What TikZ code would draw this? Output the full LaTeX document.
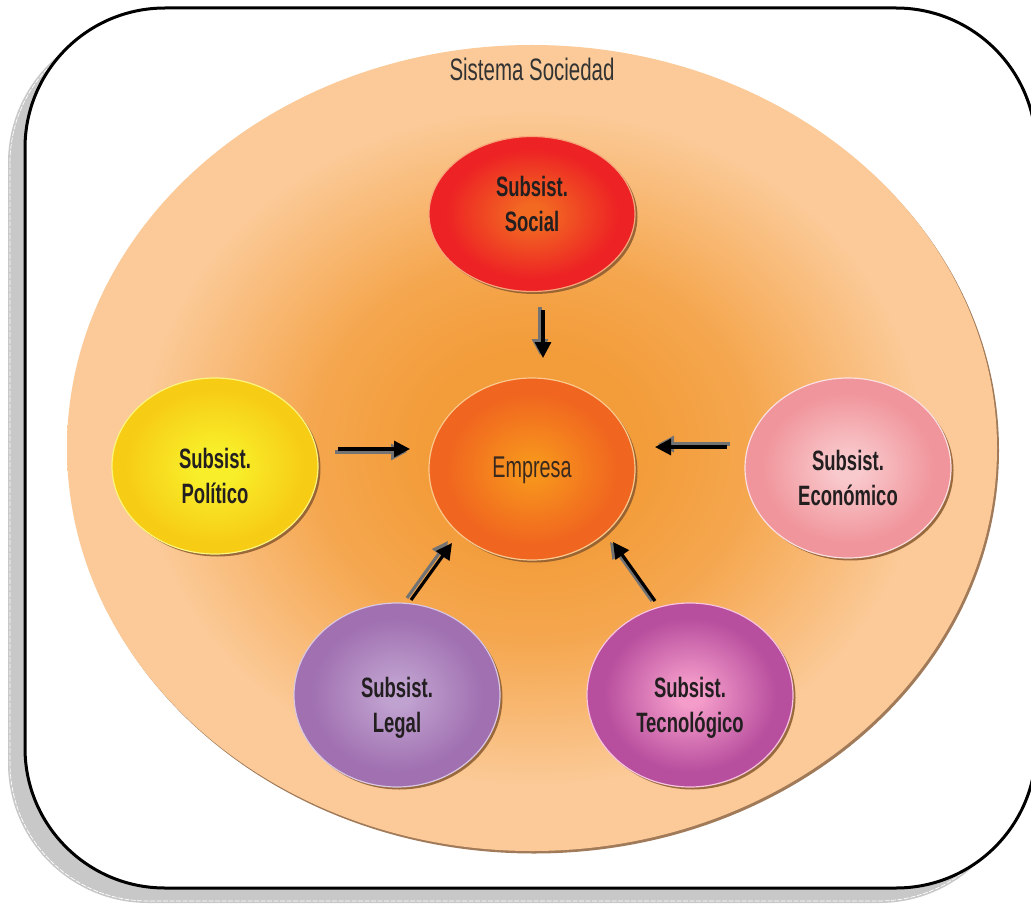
\documentclass[tikz,border=0pt]{standalone}
\usepackage{fontspec}
\newfontfamily\agency[FakeStretch=0.66]{Liberation Sans}
\usetikzlibrary{arrows.meta,shadows,shapes.geometric}
\definecolor{framesh}{HTML}{C8C8C8}
\definecolor{txt}{HTML}{231F20}
\definecolor{emptxt}{HTML}{3A2A1E}
\definecolor{soctxt}{HTML}{333333}
\definecolor{bigin}{HTML}{F39C3A}
\definecolor{bigmid}{HTML}{F5A74F}
\definecolor{bigout}{HTML}{FBCA98}
\definecolor{socin}{HTML}{F26A22}
\definecolor{socout}{HTML}{ED2224}
\definecolor{empin}{HTML}{F7941D}
\definecolor{empout}{HTML}{F0651F}
\definecolor{polin}{HTML}{F8EE2A}
\definecolor{polout}{HTML}{F7CC14}
\definecolor{ecoin}{HTML}{F9CACD}
\definecolor{ecoout}{HTML}{F0959B}
\definecolor{legin}{HTML}{C0A2D0}
\definecolor{legout}{HTML}{A070B0}
\definecolor{tecin}{HTML}{F49CCA}
\definecolor{tecout}{HTML}{B84E9E}
\definecolor{rimsh}{HTML}{8A5A30}
\pgfdeclareradialshading{shbig}{\pgfpoint{0bp}{0bp}}{color(0bp)=(bigin); color(6bp)=(bigin); color(12bp)=(bigmid); color(21bp)=(bigout); color(50bp)=(bigout)}
\pgfdeclareradialshading{shsoc}{\pgfpoint{0bp}{0bp}}{color(0bp)=(socin); color(3bp)=(socin); color(21bp)=(socout); color(50bp)=(socout)}
\pgfdeclareradialshading{shemp}{\pgfpoint{0bp}{0bp}}{color(0bp)=(empin); color(3bp)=(empin); color(21bp)=(empout); color(50bp)=(empout)}
\pgfdeclareradialshading{shpol}{\pgfpoint{0bp}{0bp}}{color(0bp)=(polin); color(5bp)=(polin); color(22bp)=(polout); color(50bp)=(polout)}
\pgfdeclareradialshading{sheco}{\pgfpoint{0bp}{0bp}}{color(0bp)=(ecoin); color(3bp)=(ecoin); color(21bp)=(ecoout); color(50bp)=(ecoout)}
\pgfdeclareradialshading{shleg}{\pgfpoint{0bp}{0bp}}{color(0bp)=(legin); color(3bp)=(legin); color(21bp)=(legout); color(50bp)=(legout)}
\pgfdeclareradialshading{shtec}{\pgfpoint{0bp}{0bp}}{color(0bp)=(tecin); color(3bp)=(tecin); color(21bp)=(tecout); color(50bp)=(tecout)}
\begin{document}
\begin{tikzpicture}[x=1pt,y=-1pt,
  subsys/.style={ellipse, inner sep=0pt, minimum width=206pt, minimum height=180pt,
    shade, line width=1.2pt, align=center, text=txt,
    font=\agency\bfseries\fontsize{28}{35}\selectfont,
    text height=74pt, text depth=0pt,
    drop shadow={shadow xshift=2.5pt, shadow yshift=-2.5pt, fill=rimsh, opacity=0.85}},
  arrblack/.style={line width=3.2pt, black, -{Triangle[length=16pt,width=16pt]}},
  arrgray/.style={line width=3.2pt, black!55, -{Triangle[length=16pt,width=16pt]}}]
\useasboundingbox (0,0) rectangle (1031,904);
\clip (0,0) rectangle (1031,904);
% frame with shadow
\fill[framesh, rounded corners=140pt] (8,23) rectangle (1019,903);
\draw[white, line width=0.7pt, dash pattern=on 5pt off 1.5pt, rounded corners=138pt] (10,25) rectangle (1017,901);
\draw[line width=3pt, fill=white, rounded corners=140pt] (25,8) rectangle (1036,888);
% society ellipse
\node[ellipse, inner sep=0pt, minimum width=930pt, minimum height=806pt, shade, shading=shbig,
  drop shadow={shadow xshift=2pt, shadow yshift=-2.5pt, fill=rimsh, opacity=0.8}] (soc) at (532,448) {};
\node[anchor=base, inner sep=0pt, text=soctxt, font=\agency\fontsize{31}{36}\selectfont] (soclabel) at (532,81) {Sistema Sociedad};
% subsystems
\node[subsys, shading=shsoc, draw=socin!60!white, minimum height=155pt, text height=36pt] (social) at (532,214) {Subsist.\\Social};
\node[subsys, shading=shemp, draw=empin!50!white, minimum height=182pt, text=emptxt,
  font=\agency\fontsize{30}{35}\selectfont, text height=22pt, text depth=6pt] (empresa) at (532,469) {Empresa};
\node[subsys, shading=shpol, draw=polin!60!white, minimum height=176pt] (politico) at (215,466) {Subsist.\\Político};
\node[subsys, shading=sheco, draw=ecoin!60!white] (economico) at (848,468) {Subsist.\\Económico};
\node[subsys, shading=shleg, draw=legin!60!white, minimum height=184pt] (legal) at (397,695) {Subsist.\\Legal};
\node[subsys, shading=shtec, draw=tecin!60!white, minimum height=184pt] (tecno) at (690,695) {Subsist.\\Tecnológico};
% arrow ends
\coordinate (s1) at (543,310); \coordinate (e1) at (543,358);
\coordinate (s2) at (338,449); \coordinate (e2) at (410,449);
\coordinate (s3) at (727,447); \coordinate (e3) at (655,447);
\coordinate (s4) at (411,600); \coordinate (e4) at (452,543);
\coordinate (s5) at (655,601); \coordinate (e5) at (613,542);
% arrows (gray offset copy, then black)
\draw[arrgray, transform canvas={shift={(-3,-3)}}] (s1) -- (e1);
\draw[arrblack] (s1) -- (e1);
\draw[arrgray, transform canvas={shift={(-3,3)}}] (s2) -- (e2);
\draw[arrblack] (s2) -- (e2);
\draw[arrgray, transform canvas={shift={(3,-3)}}] (s3) -- (e3);
\draw[arrblack] (s3) -- (e3);
\draw[arrgray, transform canvas={shift={(-4,-2)}}] (s4) -- (e4);
\draw[arrblack] (s4) -- (e4);
\draw[arrgray, transform canvas={shift={(-3,0)}}] (s5) -- (e5);
\draw[arrblack] (s5) -- (e5);
\end{tikzpicture}
\end{document}
